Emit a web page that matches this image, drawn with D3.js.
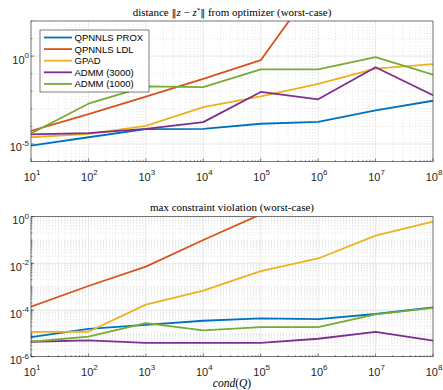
<!DOCTYPE html>
<html>
<head>
<meta charset="UTF-8">
<script src="https://d3js.org/d3.v7.min.js"></script>
<style>
  body { margin: 0; background: #fff; }
  svg { display: block; }
</style>
</head>
<body>
<div id="vis"></div>
<script>
// condition numbers on x
const condQ = [1e1, 1e2, 1e3, 1e4, 1e5, 1e6, 1e7, 1e8];
const seriesNames = ["QPNNLS PROX", "QPNNLS LDL", "GPAD", "ADMM (3000)", "ADMM (1000)"];
const seriesColors = ["#0072BD", "#D95319", "#EDB120", "#7E2F8E", "#77AC30"];

// distance ||z - z*|| (log10 values)
const distProx  = [-5.10, -4.62, -4.16, -4.14, -3.85, -3.74, -3.09, -2.54];
const distLdl   = [-4.26, -3.30, -2.31, -1.30, -0.23, 4.3, 8.0, 10.0];
const distGpad  = [-4.62, -4.43, -3.97, -2.90, -2.29, -1.58, -0.71, -0.46];
const distA3000 = [-4.45, -4.39, -4.14, -3.76, -2.04, -2.46, -0.63, -2.23];
const distA1000 = [-4.40, -2.71, -1.72, -1.76, -0.76, -0.76, -0.06, -1.05];

// max constraint violation (log10 values)
const violProx  = [-5.16, -4.81, -4.64, -4.46, -4.36, -4.39, -4.17, -3.89];
const violLdl   = [-3.86, -2.97, -2.14, -1.00, 0.10, 1.5, 3.0, 4.5];
const violGpad  = [-4.94, -4.93, -3.77, -3.17, -2.33, -1.79, -0.81, -0.21];
const violA3000 = [-5.36, -5.30, -5.41, -5.41, -5.41, -5.23, -4.94, -5.31];
const violA1000 = [-5.36, -5.14, -4.56, -4.87, -4.73, -4.73, -4.19, -3.91];

const xTicks = [1e1, 1e2, 1e3, 1e4, 1e5, 1e6, 1e7, 1e8];
const topYTicks = [1e-5, 1e0];
const botYTicks = [1e-6, 1e-4, 1e-2, 1e0];

const W = 443, H = 390;
const svg = d3.select("#vis").append("svg").attr("width", W).attr("height", H);
const axisColor = "#262626";

function supLabel(g, x, y, exp, anchor) {
    const t = g.append("text").attr("x", x).attr("y", y)
        .attr("text-anchor", anchor)
        .attr("font-family", "Liberation Sans, Arial, sans-serif")
        .attr("font-size", 11).attr("fill", axisColor);
    t.append("tspan").text("10");
    t.append("tspan").attr("dy", -5.5).attr("font-size", 8).text(exp);
}

function drawPanel(opt) {
    const x = d3.scaleLog().domain([1e1, 1e8]).range([31, 433]);
    const y = d3.scaleLog().domain(opt.yDomain).range([opt.bottom, opt.top]);
    const g = svg.append("g");
    const clipId = "clip" + opt.id;
    svg.append("clipPath").attr("id", clipId).append("rect")
        .attr("x", 31).attr("y", opt.top).attr("width", 402).attr("height", opt.bottom - opt.top);

    // minor grid x
    const xMinor = [];
    for (let e = 1; e < 8; e++) for (let m = 2; m <= 9; m++) xMinor.push(m * Math.pow(10, e));
    g.selectAll(".xmin").data(xMinor).enter().append("line")
        .attr("x1", d => x(d)).attr("x2", d => x(d))
        .attr("y1", opt.top).attr("y2", opt.bottom)
        .attr("stroke", "#d4d4d4").attr("stroke-width", 0.6).attr("stroke-dasharray", "1,2");
    g.selectAll(".ymin").data(opt.yMinor).enter().append("line")
        .attr("x1", 31).attr("x2", 433)
        .attr("y1", d => y(d)).attr("y2", d => y(d))
        .attr("stroke", "#d4d4d4").attr("stroke-width", 0.6).attr("stroke-dasharray", "1,2");
    // major grid
    g.selectAll(".xmaj").data(xTicks).enter().append("line")
        .attr("x1", d => x(d)).attr("x2", d => x(d))
        .attr("y1", opt.top).attr("y2", opt.bottom)
        .attr("stroke", "#e3e3e3").attr("stroke-width", 0.8);
    g.selectAll(".ymaj").data(opt.yTicks).enter().append("line")
        .attr("x1", 31).attr("x2", 433)
        .attr("y1", d => y(d)).attr("y2", d => y(d))
        .attr("stroke", "#e3e3e3").attr("stroke-width", 0.8);

    // lines
    const line = d3.line().x((d, i) => x(condQ[i])).y(d => y(Math.pow(10, d)));
    g.append("g").attr("clip-path", "url(#" + clipId + ")")
        .selectAll("path").data(opt.series).enter().append("path")
        .attr("d", d => line(d))
        .attr("fill", "none")
        .attr("stroke", (d, i) => seriesColors[i])
        .attr("stroke-width", 1.8)
        .attr("stroke-linejoin", "round");

    // box
    g.append("rect").attr("x", 31).attr("y", opt.top)
        .attr("width", 402).attr("height", opt.bottom - opt.top)
        .attr("fill", "none").attr("stroke", axisColor).attr("stroke-width", 0.6);

    // tick marks
    g.selectAll(".xt").data(xTicks).enter().append("line")
        .attr("x1", d => x(d)).attr("x2", d => x(d))
        .attr("y1", opt.bottom).attr("y2", opt.bottom - 3)
        .attr("stroke", axisColor).attr("stroke-width", 0.6);
    g.selectAll(".xt2").data(xMinor).enter().append("line")
        .attr("x1", d => x(d)).attr("x2", d => x(d))
        .attr("y1", opt.bottom).attr("y2", opt.bottom - 1.5)
        .attr("stroke", axisColor).attr("stroke-width", 0.5);
    g.selectAll(".yt").data(opt.yTicks).enter().append("line")
        .attr("x1", 31).attr("x2", 34)
        .attr("y1", d => y(d)).attr("y2", d => y(d))
        .attr("stroke", axisColor).attr("stroke-width", 0.6);
    g.selectAll(".yt2").data(opt.yMinor).enter().append("line")
        .attr("x1", 31).attr("x2", 32.5)
        .attr("y1", d => y(d)).attr("y2", d => y(d))
        .attr("stroke", axisColor).attr("stroke-width", 0.5);

    xTicks.forEach(t => supLabel(g, x(t) + 1, opt.bottom + 19, Math.round(Math.log10(t)), "middle"));
    opt.yTicks.forEach(t => supLabel(g, 29, y(t) + 7.5, Math.round(Math.log10(t)), "end"));

    return {x, y, g};
}

drawPanel({
    id: 1, top: 21, bottom: 161.5, yDomain: [1e-6, 1e2],
    yTicks: topYTicks,
    yMinor: [1e-6, 1e-4, 1e-3, 1e-2, 1e-1, 1e1, 1e2],
    series: [distProx, distLdl, distGpad, distA3000, distA1000]
});

const botMinor = [];
for (let e = -6; e < 0; e++) for (let m = 1; m <= 9; m++) botMinor.push(m * Math.pow(10, e));
drawPanel({
    id: 2, top: 216.7, bottom: 356.7, yDomain: [1e-6, 1e0],
    yTicks: botYTicks,
    yMinor: botMinor,
    series: [violProx, violLdl, violGpad, violA3000, violA1000]
});

// titles
const t1 = svg.append("text").attr("x", 232).attr("y", 16).attr("text-anchor", "middle")
    .attr("font-family", "Liberation Serif, serif").attr("font-size", 11).attr("fill", "#000");
t1.append("tspan").text("distance ");
t1.append("tspan").attr("font-family", "DejaVu Serif, serif").attr("font-size", 10).text("\u2016");
t1.append("tspan").attr("font-style", "italic").text("z");
t1.append("tspan").text(" \u2212 ");
t1.append("tspan").attr("font-style", "italic").text("z");
t1.append("tspan").attr("dy", -4).attr("font-size", 7).text("*");
t1.append("tspan").attr("dy", 4).attr("font-family", "DejaVu Serif, serif").attr("font-size", 10).text("\u2016");
t1.append("tspan").text(" from optimizer (worst-case)");

svg.append("text").attr("x", 232).attr("y", 211).attr("text-anchor", "middle")
    .attr("font-family", "Liberation Serif, serif").attr("font-size", 11).attr("fill", "#000")
    .text("max constraint violation (worst-case)");

const xl = svg.append("text").attr("x", 232).attr("y", 387).attr("text-anchor", "middle")
    .attr("font-family", "Liberation Serif, serif").attr("font-size", 11.5).attr("fill", "#000")
    .attr("font-style", "italic");
xl.append("tspan").text("cond");
xl.append("tspan").attr("font-style", "normal").text("(");
xl.append("tspan").text("Q");
xl.append("tspan").attr("font-style", "normal").text(")");

// legend
const leg = svg.append("g");
leg.append("rect").attr("x", 40).attr("y", 30).attr("width", 109).attr("height", 62)
    .attr("fill", "#fff").attr("stroke", axisColor).attr("stroke-width", 0.6);
seriesNames.forEach((name, i) => {
    const yy = 37.5 + i * 11.6;
    leg.append("line").attr("x1", 44).attr("x2", 72).attr("y1", yy).attr("y2", yy)
        .attr("stroke", seriesColors[i]).attr("stroke-width", 1.8);
    leg.append("text").attr("x", 74.5).attr("y", yy + 3.5)
        .attr("font-family", "Liberation Sans, Arial, sans-serif").attr("font-size", 9.5)
        .attr("fill", "#000").text(name);
});
</script>
</body>
</html>
